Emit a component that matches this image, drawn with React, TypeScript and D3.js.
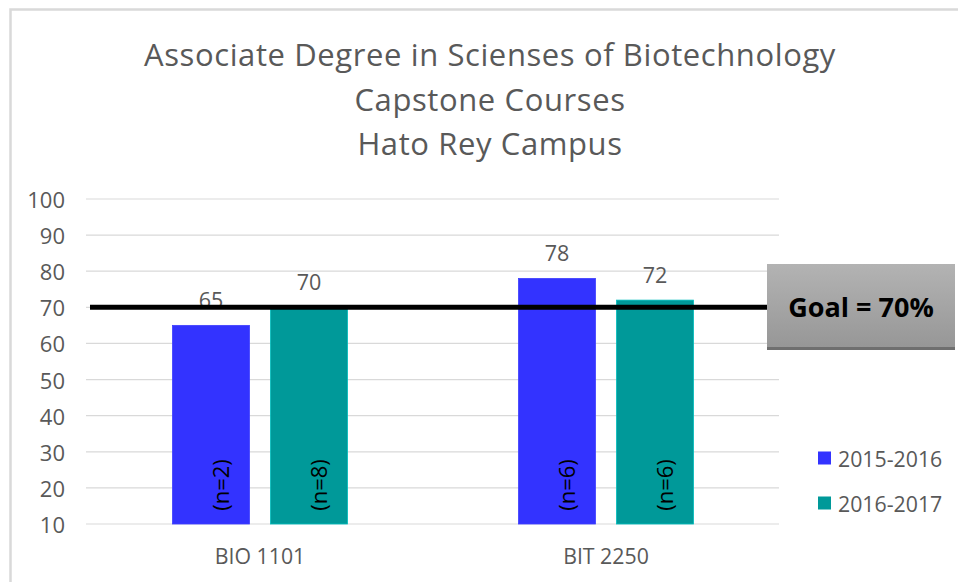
import React from "react";
import * as d3 from "d3";

const titleLines = [
  "Associate Degree in Scienses of Biotechnology",
  "Capstone Courses",
  "Hato Rey Campus",
];
const categories = ["BIO 1101", "BIT 2250"];
const seriesNames = ["2015-2016", "2016-2017"];
const seriesColors = ["#3333FF", "#009999"];
const values2015 = [65, 78];
const values2016 = [70, 72];
const nLabels2015 = ["(n=2)", "(n=6)"];
const nLabels2016 = ["(n=8)", "(n=6)"];
const yTicks = [10, 20, 30, 40, 50, 60, 70, 80, 90, 100];
const goalValue = 70;
const goalLabel = "Goal = 70%";

const W = 958;
const H = 582;
const FONT = "'Open Sans', sans-serif";
const GREY = "#595959";

export default function App() {
  const y = d3.scaleLinear().domain([10, 100]).range([524, 199]);
  const x0 = d3
    .scaleBand<string>()
    .domain(categories)
    .range([87, 779])
    .paddingInner(0.494)
    .paddingOuter(0.247);
  const x1 = d3
    .scaleBand<string>()
    .domain(seriesNames)
    .range([0, x0.bandwidth()])
    .paddingInner(0.214)
    .paddingOuter(0);

  const series = [
    { name: seriesNames[0], values: values2015, n: nLabels2015, color: seriesColors[0] },
    { name: seriesNames[1], values: values2016, n: nLabels2016, color: seriesColors[1] },
  ];

  const gridX1 = 86;
  const gridX2 = 779;

  return (
    <svg
      width={W}
      height={H}
      style={{ position: "absolute", left: 0, top: 0, background: "#fff" }}
      fontFamily={FONT}
    >
      <defs>
        <linearGradient id="goalGrad" x1="0" y1="0" x2="0" y2="1">
          <stop offset="0%" stopColor="#b3b3b3" />
          <stop offset="100%" stopColor="#979797" />
        </linearGradient>
      </defs>
      <rect x={0} y={0} width={W} height={H} fill="#fff" />
      {/* chart border */}
      <rect x={10.5} y={9.5} width={W + 20} height={H + 20} fill="none" stroke="#d9d9d9" strokeWidth={2.5} />

      {/* title */}
      {titleLines.map((t, i) => (
        <text
          key={i}
          x={490}
          y={66 + i * 44.5}
          textAnchor="middle"
          fontSize={31}
          letterSpacing={0.6}
          fill={GREY}
        >
          {t}
        </text>
      ))}

      {/* gridlines and y ticks */}
      {yTicks.map((t) => (
        <g key={t}>
          <line x1={gridX1} x2={gridX2} y1={y(t)} y2={y(t)} stroke="#d9d9d9" strokeWidth={1.2} />
          <text
            x={65}
            y={y(t)}
            textAnchor="end"
            dominantBaseline="central"
            fontSize={22}
            fill={GREY}
          >
            {t}
          </text>
        </g>
      ))}

      {/* bars */}
      {categories.map((c, ci) => (
        <g key={c} transform={`translate(${x0(c)},0)`}>
          {series.map((s) => {
            const bx = x1(s.name) as number;
            const bw = x1.bandwidth();
            const v = s.values[ci];
            return (
              <g key={s.name}>
                <rect
                  x={bx}
                  y={y(v)}
                  width={bw}
                  height={y(10) - y(v)}
                  fill={s.color}
                  stroke={d3.color(s.color)!.brighter(0.6).toString()}
                  strokeWidth={0.8}
                />
                <text
                  x={bx + bw / 2}
                  y={y(v) - 17}
                  textAnchor="middle"
                  fontSize={21.5}
                  fill={GREY}
                >
                  {v}
                </text>
                <text
                  transform={`translate(${bx + bw / 2 + 9},485) rotate(-90)`}
                  textAnchor="middle"
                  dominantBaseline="central"
                  fontSize={22}
                  fill="#000"
                >
                  {s.n[ci]}
                </text>
              </g>
            );
          })}
        </g>
      ))}

      {/* category labels */}
      {categories.map((c) => (
        <text
          key={c}
          x={(x0(c) as number) + x0.bandwidth() / 2}
          y={564}
          textAnchor="middle"
          fontSize={21.3}
          fill={GREY}
        >
          {c}
        </text>
      ))}

      {/* goal line */}
      <line x1={90} x2={768} y1={y(goalValue)} y2={y(goalValue)} stroke="#000" strokeWidth={5} />

      {/* goal box */}
      <rect x={767} y={267} width={188} height={83} fill="#6f6f6f" />
      <rect x={767} y={264} width={188} height={83} fill="url(#goalGrad)" />
      <text
        x={861}
        y={317}
        textAnchor="middle"
        fontSize={27}
        fontWeight="bold"
        fill="#000"
      >
        {goalLabel}
      </text>

      {/* legend */}
      {series.map((s, i) => (
        <g key={s.name} transform={`translate(818,${458 + i * 45})`}>
          <rect x={0} y={-6.5} width={13} height={13} fill={s.color} />
          <text x={20} y={0} dominantBaseline="central" fontSize={21.3} fill={GREY}>
            {s.name}
          </text>
        </g>
      ))}
    </svg>
  );
}
